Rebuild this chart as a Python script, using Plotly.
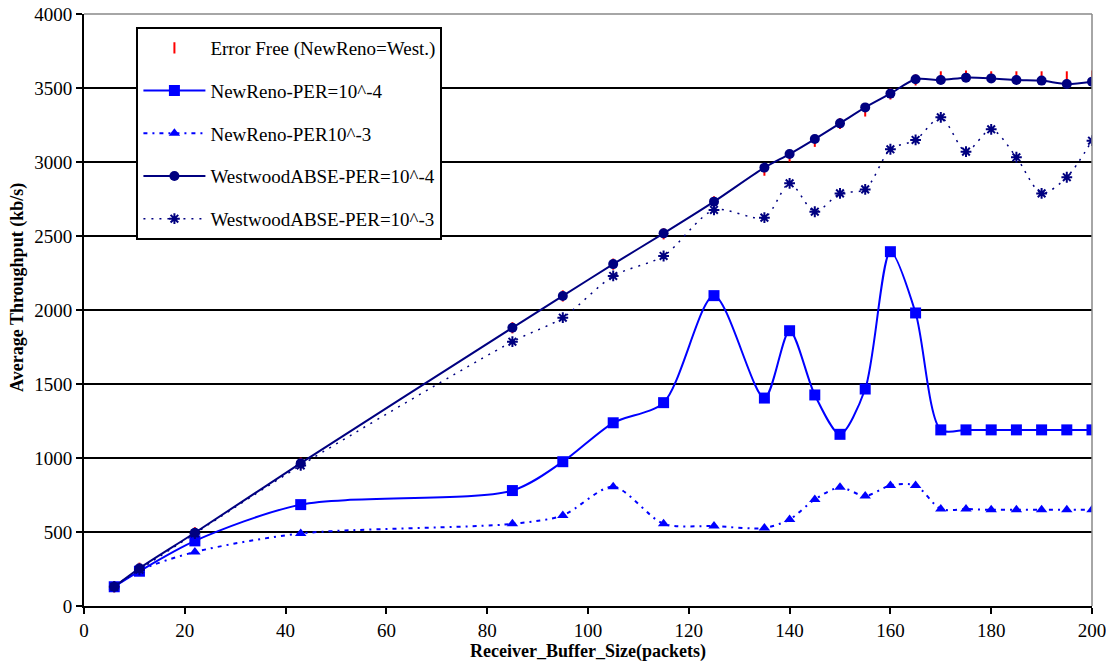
import plotly.graph_objects as go

buffer_size = [6, 11, 22, 43, 85, 95, 105, 115, 125, 135, 140, 145, 150, 155, 160, 165, 170, 175, 180, 185, 190, 195, 200]

error_free = [130, 255, 495, 965, 1880, 2095, 2310, 2515, 2730, 2945, 3040, 3140, 3260, 3345, 3460, 3555, 3575, 3580, 3575, 3575, 3575, 3575, 3580]
newreno_1e4 = [130, 235, 440, 685, 780, 975, 1238, 1374, 2097, 1405, 1860, 1426, 1160, 1466, 2394, 1980, 1190, 1190, 1190, 1190, 1190, 1190, 1190]
newreno_1e3 = [130, 240, 365, 490, 555, 612, 806, 555, 540, 527, 585, 720, 802, 743, 815, 815, 655, 655, 650, 650, 650, 650, 650]
westwood_1e4 = [130, 255, 495, 965, 1880, 2095, 2310, 2518, 2732, 2962, 3054, 3155, 3261, 3369, 3462, 3559, 3554, 3570, 3565, 3554, 3550, 3527, 3543]
westwood_1e3 = [130, 245, 490, 950, 1786, 1948, 2230, 2365, 2676, 2624, 2856, 2664, 2788, 2815, 3086, 3149, 3302, 3070, 3221, 3032, 2788, 2897, 3144]

y_ticks = [0, 500, 1000, 1500, 2000, 2500, 3000, 3500, 4000]
x_ticks = [0, 20, 40, 60, 80, 100, 120, 140, 160, 180, 200]

FONT = "'Liberation Serif', 'DejaVu Serif', serif"
BLUE = "#0000FF"
NAVY = "#000080"

fig = go.Figure()

fig.add_trace(go.Scatter(
    x=buffer_size, y=error_free, mode="markers", name="Error Free (NewReno=West.)",
    legendgroup="a",
    marker=dict(symbol="line-ns", size=8, color="red", line=dict(color="red", width=2)),
))
fig.add_trace(go.Scatter(
    x=buffer_size, y=newreno_1e4, mode="lines+markers", name="NewReno-PER=10^-4",
    legendgroup="b",
    line=dict(color=BLUE, width=2, shape="spline", smoothing=0.8),
    marker=dict(symbol="square", size=11, color=BLUE),
))
fig.add_trace(go.Scatter(
    x=buffer_size, y=newreno_1e3, mode="lines+markers", name="NewReno-PER10^-3",
    legendgroup="c",
    line=dict(color=BLUE, width=2, shape="spline", smoothing=0.8, dash="4px,5px,2px,5px"),
    marker=dict(symbol="triangle-up", size=10, color=BLUE),
))
fig.add_trace(go.Scatter(
    x=buffer_size, y=westwood_1e4, mode="lines+markers", name="WestwoodABSE-PER=10^-4",
    legendgroup="d",
    line=dict(color=NAVY, width=2, shape="spline", smoothing=0.8),
    marker=dict(symbol="circle", size=10, color=NAVY),
))
fig.add_trace(go.Scatter(
    x=buffer_size, y=westwood_1e3, mode="lines+markers", name="WestwoodABSE-PER=10^-3",
    legendgroup="e",
    line=dict(color=NAVY, width=1.5, shape="spline", smoothing=0.8, dash="2px,6px"),
    marker=dict(symbol="asterisk", size=9, color=NAVY, line=dict(color=NAVY, width=2)),
))

fig.update_layout(
    width=1106, height=662,
    margin=dict(l=84, r=14, t=14, b=56, autoexpand=False),
    paper_bgcolor="white", plot_bgcolor="white",
    font=dict(family=FONT, size=19, color="black"),
    showlegend=True,
    legend=dict(
        x=0.052, y=0.978, xanchor="left", yanchor="top",
        bgcolor="white", bordercolor="black", borderwidth=2,
        font=dict(family=FONT, size=19, color="black"),
        tracegroupgap=15, itemwidth=62,
    ),
    xaxis=dict(
        range=[0, 200], tickvals=x_ticks, ticks="outside", ticklen=6, tickwidth=2, tickcolor="black",
        showline=True, linecolor="black", linewidth=2, showgrid=False, zeroline=False,
        automargin=False, ticklabeloverflow="allow",
        title=dict(text="<b>Receiver_Buffer_Size(packets)</b>", font=dict(family=FONT, size=18), standoff=10),
        tickfont=dict(family=FONT, size=19),
    ),
    yaxis=dict(
        range=[0, 4000], tickvals=y_ticks, ticks="outside", ticklen=6, tickwidth=2, tickcolor="black",
        showline=True, linecolor="black", linewidth=2, showgrid=True, gridcolor="black", gridwidth=1.5,
        zeroline=False, automargin=False, ticklabeloverflow="allow",
        tickfont=dict(family=FONT, size=19),
    ),
    annotations=[
        dict(text="<b>Average Throughput (kb/s)</b>", xref="paper", yref="paper",
             x=-0.0655, y=0.539, xanchor="center", yanchor="middle", textangle=-90,
             showarrow=False, font=dict(family=FONT, size=18, color="black")),
    ],
    shapes=[
        dict(type="line", xref="paper", yref="paper", x0=0, x1=1, y0=1, y1=1, line=dict(color="#888888", width=1.5)),
        dict(type="line", xref="paper", yref="paper", x0=1, x1=1, y0=0, y1=1, line=dict(color="#888888", width=1.5)),
    ],
)

fig.write_html("out.html")
